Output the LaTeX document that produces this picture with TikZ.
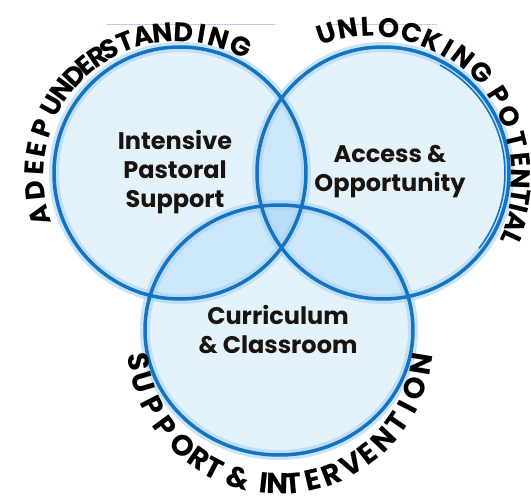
\documentclass[tikz,border=0pt]{standalone}
\usepackage{fontspec}
\setmainfont{Poppins}
\newfontfamily\archfont{Poppins}
\definecolor{ringblue}{RGB}{22,115,192}
\definecolor{glowblue}{RGB}{165,210,242}
\definecolor{fillblue}{RGB}{30,150,230}
\definecolor{dotblue}{RGB}{150,190,235}
\definecolor{inkblack}{RGB}{25,20,15}
\tikzset{
  ring/.style={ringblue,line width=3.5pt},
  glow/.style={glowblue,opacity=0.6,line width=10pt},
  arcletter/.style={inner sep=0pt,anchor=center,text=black,font=\archfont\bfseries\fontsize{#1}{#1}\selectfont}
}

\begin{document}
\begin{tikzpicture}[line cap=round,line join=round,x=1pt,y=1pt,font=\bfseries\fontsize{24}{29}\selectfont]
\useasboundingbox (0,0) rectangle (531,499);
\draw [dotblue,densely dotted,line width=0.6pt] (107,475)-- (275,475);
\draw [dotblue,densely dotted,line width=0.6pt] (325,475)-- (437,475);
\fill [fillblue,fill opacity=0.12] (180,326) circle (126);
\fill [fillblue,fill opacity=0.12] (383,326) circle (126);
\fill [fillblue,fill opacity=0.12] (279,169) ellipse (134 and 125);
\draw [glow] (180,326) circle (126);
\draw [glow] (383,326) circle (126);
\draw [glow] (279,169) ellipse (134 and 125);
\draw [ring] (180,326) circle (126);
\draw [ring] (383,326) circle (126);
\draw [ring] (279,169) ellipse (134 and 125);
\draw [ringblue,line width=1.5pt] (383,326) ++(62:122) arc (62:-38:122);
% A DEEP UNDERSTANDING
\foreach \ang/\ch [count=\i] in {196.1/A,185.7/D,176.7/E,169.3/E,160.8/P,150.9/U,143.4/N,136.1/D,130/E,124.2/R,118.3/S,111.6/T,104.1/A,96.3/N,87.6/D,80.3/I,73.5/N,64/G}
  \path (178,323) ++(\ang:144) node[arcletter=27,rotate=\ang-90] (deep\i) {\ch};
% UNLOCKING POTENTIAL
\foreach \ang/\rad/\ch [count=\i] in {108.5/148/U,100/148/N,92.5/147/L,84/147/O,75/146/C,66.5/146/K,59.5/146/I,52.5/147/N,43.5/148/G,32/147/P,23/147/O,13.5/147/T,5.5/147/E,-2/147/N,-9/148/T,-13.5/149/I,-19/150/A,-25/152/L}
  \path (374,325) ++(\ang:\rad) node[arcletter=27,rotate=\ang-90] (unlock\i) {\ch};
% SUPPORT & INTERVENTION
\foreach \ang/\ch [count=\i] in {188.2/S,196.7/U,206.9/P,216.6/P,227.2/O,235.4/R,242.6/T,253.3/\&,263.5/I,268.9/N,275.2/T,283.2/E,291.3/R,300.1/V,307.8/E,316.6/N,325/T,332.7/I,340.7/O,350.6/N}
  \path (280,158) ++(\ang:143) node[arcletter=29,rotate=\ang+90] (support\i) {\ch};
\draw[color=inkblack] (175,327) node[align=center] (pastoral) {Intensive\\Pastoral\\Support};
\draw[color=inkblack] (390,327) node[align=center] (access) {Access \&\\Opportunity};
\draw[color=inkblack] (278,169) node[align=center] (curriculum) {Curriculum\\\& Classroom};
\end{tikzpicture}
\end{document}
